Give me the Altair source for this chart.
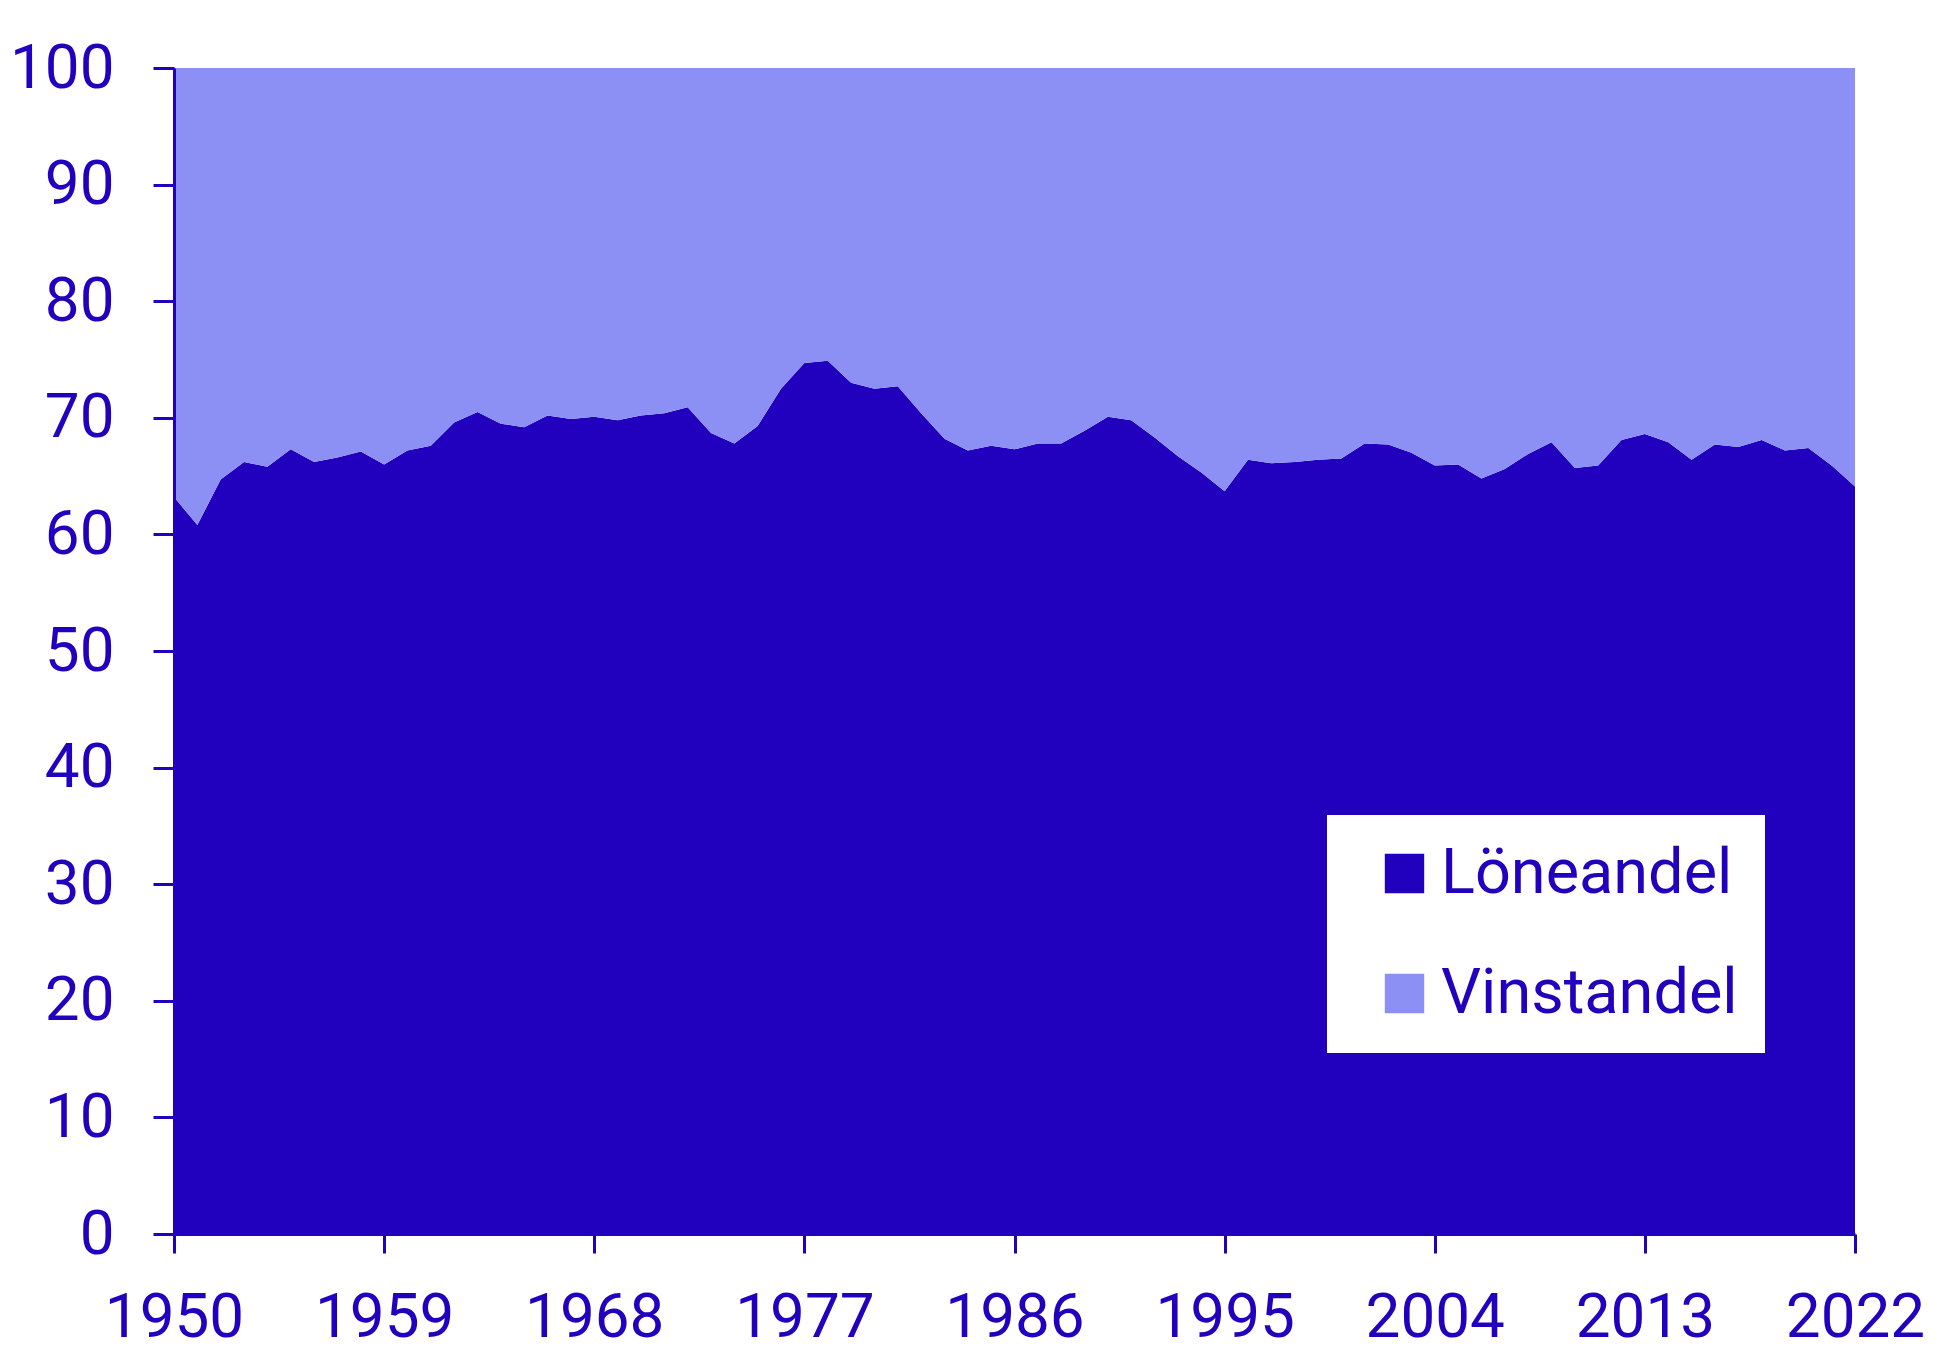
import altair as alt
import pandas as pd

years = list(range(1950, 2023))

loneandel = [
    63.2, 60.8, 64.7, 66.2, 65.8, 67.3, 66.2, 66.6, 67.1, 66.0,
    67.2, 67.6, 69.6, 70.5, 69.5, 69.2, 70.2, 69.9, 70.1, 69.8,
    70.2, 70.4, 70.9, 68.7, 67.8, 69.3, 72.5, 74.7, 74.9, 73.0,
    72.5, 72.7, 70.4, 68.2, 67.2, 67.6, 67.3, 67.8, 67.8, 68.9,
    70.1, 69.8, 68.3, 66.7, 65.3, 63.7, 66.4, 66.1, 66.2, 66.4,
    66.5, 67.8, 67.7, 67.0, 65.9, 66.0, 64.8, 65.6, 66.9, 67.9,
    65.7, 65.9, 68.1, 68.6, 67.9, 66.4, 67.7, 67.5, 68.1, 67.2,
    67.4, 65.9, 64.1,
]

vinstandel = [
    36.8, 39.2, 35.3, 33.8, 34.2, 32.7, 33.8, 33.4, 32.9, 34.0,
    32.8, 32.4, 30.4, 29.5, 30.5, 30.8, 29.8, 30.1, 29.9, 30.2,
    29.8, 29.6, 29.1, 31.3, 32.2, 30.7, 27.5, 25.3, 25.1, 27.0,
    27.5, 27.3, 29.6, 31.8, 32.8, 32.4, 32.7, 32.2, 32.2, 31.1,
    29.9, 30.2, 31.7, 33.3, 34.7, 36.3, 33.6, 33.9, 33.8, 33.6,
    33.5, 32.2, 32.3, 33.0, 34.1, 34.0, 35.2, 34.4, 33.1, 32.1,
    34.3, 34.1, 31.9, 31.4, 32.1, 33.6, 32.3, 32.5, 31.9, 32.8,
    32.6, 34.1, 35.9,
]

series = ["Löneandel", "Vinstandel"]
colors = ["#2100BE", "#8C8FF3"]
x_ticks = [1950, 1959, 1968, 1977, 1986, 1995, 2004, 2013, 2022]
y_ticks = [0, 10, 20, 30, 40, 50, 60, 70, 80, 90, 100]

TEXT = "#2100BE"
FONT = "Roboto"

rows = []
for i, yr in enumerate(years):
    rows.append({"year": yr, "andel": loneandel[i], "serie": series[0], "ord": 0})
    rows.append({"year": yr, "andel": vinstandel[i], "serie": series[1], "ord": 1})
df = pd.DataFrame(rows)

chart = (
    alt.Chart(df)
    .mark_area(interpolate="linear")
    .encode(
        x=alt.X(
            "year:Q",
            scale=alt.Scale(domain=[1950, 2022], nice=False, zero=False),
            axis=alt.Axis(
                values=x_ticks, format="d", title=None, grid=False,
                labelFontSize=62, labelFont=FONT, labelColor=TEXT,
                tickColor=TEXT, tickSize=19, tickWidth=3,
                domainColor=TEXT, domainWidth=3, labelPadding=34,
                labelFlush=False, labelOverlap=False, zindex=1,
            ),
        ),
        y=alt.Y(
            "andel:Q",
            stack="zero",
            scale=alt.Scale(domain=[0, 100], nice=False),
            axis=alt.Axis(
                values=y_ticks, title=None, grid=False,
                labelFontSize=62, labelFont=FONT, labelColor=TEXT,
                tickColor=TEXT, tickSize=21, tickWidth=3,
                domainColor=TEXT, domainWidth=3, labelPadding=39,
                labelOverlap=False, zindex=1,
            ),
        ),
        color=alt.Color(
            "serie:N",
            scale=alt.Scale(domain=series, range=colors),
            legend=alt.Legend(
                title=None, orient="none", legendX=1153, legendY=747,
                fillColor="white", padding=27, symbolOffset=19,
                symbolType="square", symbolSize=1550, symbolStrokeWidth=0,
                labelFontSize=63, labelFont=FONT, labelColor=TEXT,
                labelOffset=5, rowPadding=56, labelLimit=500,
            ),
        ),
        order=alt.Order("ord:Q"),
    )
    .properties(
        width=1681,
        height=1166,
        autosize=alt.AutoSizeParams(type="none"),
        padding={"left": 166, "top": 60, "right": 80, "bottom": 126},
    )
    .configure_view(strokeWidth=0)
)

chart.save("out.html", embed_options={"renderer": "svg", "actions": False})
